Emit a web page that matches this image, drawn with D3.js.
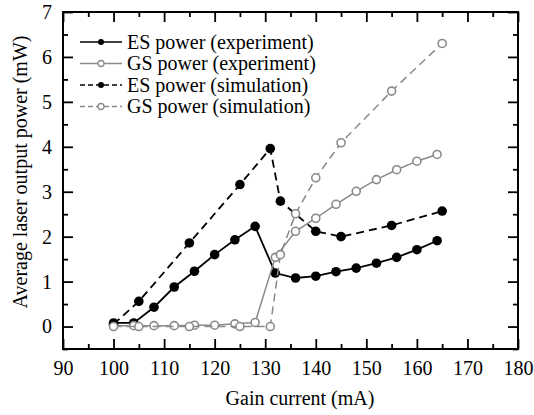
<!DOCTYPE html>
<html>
<head>
<meta charset="utf-8">
<script src="https://cdn.jsdelivr.net/npm/d3@7"></script>
<style>
  body { margin: 0; background: #fff; }
</style>
</head>
<body>
<div id="chart"></div>
<script>
"use strict";

/* Gain current (mA) and measured / simulated power (mW) */
const esExpX = [100, 104, 108, 112, 116, 120, 124, 128, 132, 136, 140, 144, 148, 152, 156, 160, 164];
const esExpY = [0.08, 0.08, 0.43, 0.88, 1.23, 1.6, 1.93, 2.23, 1.19, 1.08, 1.12, 1.22, 1.3, 1.41, 1.54, 1.71, 1.91];

const gsExpX = [100, 104, 108, 112, 116, 120, 124, 128, 132, 136, 140, 144, 148, 152, 156, 160, 164];
const gsExpY = [0.02, 0.02, 0.02, 0.02, 0.03, 0.03, 0.06, 0.09, 1.54, 2.12, 2.41, 2.72, 3.01, 3.27, 3.49, 3.68, 3.83];

const esSimX = [100, 105, 115, 125, 131, 133, 140, 145, 155, 165];
const esSimY = [0.05, 0.56, 1.86, 3.16, 3.96, 2.79, 2.12, 2.0, 2.25, 2.57];

const gsSimX = [100, 105, 115, 125, 131, 133, 136, 140, 145, 155, 165];
const gsSimY = [0.0, 0.0, 0.0, 0.0, 0.0, 1.6, 2.51, 3.31, 4.09, 5.24, 6.3];

const xTicks = [90, 100, 110, 120, 130, 140, 150, 160, 170, 180];
const xMinor = [95, 105, 115, 125, 135, 145, 155, 165, 175];
const yTicks = [0, 1, 2, 3, 4, 5, 6, 7];
const yMinor = [-0.5, 0.5, 1.5, 2.5, 3.5, 4.5, 5.5, 6.5];

const seriesNames = ["ES power (experiment)", "GS power (experiment)", "ES power (simulation)", "GS power (simulation)"];

const width = 534, height = 415,
      margin = {top: 12, right: 16, bottom: 66, left: 63};

const serif = "Liberation Serif";
const grey = "#8a8a8a";

const series = [
  {name: seriesNames[0], xs: esExpX, ys: esExpY, color: "#000", dash: null, filled: true},
  {name: seriesNames[1], xs: gsExpX, ys: gsExpY, color: grey, dash: null, filled: false},
  {name: seriesNames[2], xs: esSimX, ys: esSimY, color: "#000", dash: "8,5", filled: true},
  {name: seriesNames[3], xs: gsSimX, ys: gsSimY, color: grey, dash: "8,5", filled: false}
];

let svg = d3.select("#chart").append("svg")
    .attr("width", width)
    .attr("height", height);

let plotW = width - margin.left - margin.right,
    plotH = height - margin.top - margin.bottom;

let x = d3.scaleLinear().domain([90, 180]).range([0, plotW]),
    y = d3.scaleLinear().domain([-0.5, 7]).range([plotH, 0]);

let g = svg.append("g")
    .attr("transform", "translate(" + margin.left + "," + margin.top + ")");

/* Axes: major and minor ticks pointing inward on all four sides */
function styleAxis(sel) {
  sel.attr("font-family", serif).attr("font-size", 20);
  sel.select(".domain").remove();
  sel.selectAll(".tick line").attr("stroke", "#000").attr("stroke-width", 1.8);
  sel.selectAll(".tick text").attr("fill", "#000");
}

g.append("g")
    .attr("transform", "translate(0," + plotH + ")")
    .call(d3.axisBottom(x).tickValues(xTicks).tickSize(-10).tickPadding(12).tickFormat(d3.format("d")))
    .call(styleAxis);
g.append("g")
    .attr("transform", "translate(0," + plotH + ")")
    .call(d3.axisBottom(x).tickValues(xMinor).tickSize(-5).tickFormat(""))
    .call(styleAxis);
g.append("g")
    .call(d3.axisTop(x).tickValues(xTicks).tickSize(-10).tickFormat(""))
    .call(styleAxis);
g.append("g")
    .call(d3.axisTop(x).tickValues(xMinor).tickSize(-5).tickFormat(""))
    .call(styleAxis);

g.append("g")
    .call(d3.axisLeft(y).tickValues(yTicks).tickSize(-10).tickPadding(11).tickFormat(d3.format("d")))
    .call(styleAxis);
g.append("g")
    .call(d3.axisLeft(y).tickValues(yMinor).tickSize(-5).tickFormat(""))
    .call(styleAxis);
g.append("g")
    .attr("transform", "translate(" + plotW + ",0)")
    .call(d3.axisRight(y).tickValues(yTicks).tickSize(-10).tickFormat(""))
    .call(styleAxis);
g.append("g")
    .attr("transform", "translate(" + plotW + ",0)")
    .call(d3.axisRight(y).tickValues(yMinor).tickSize(-5).tickFormat(""))
    .call(styleAxis);

/* Frame */
g.append("rect")
    .attr("width", plotW)
    .attr("height", plotH)
    .attr("fill", "none")
    .attr("stroke", "#000")
    .attr("stroke-width", 2);

/* Lines and markers */
let line = d3.line()
    .x(function(d) { return x(d[0]); })
    .y(function(d) { return y(d[1]); });

series.forEach(function(s) {
  let pts = s.xs.map(function(v, i) { return [v, s.ys[i]]; });
  let grp = g.append("g");
  grp.append("path")
      .datum(pts)
      .attr("d", line)
      .attr("fill", "none")
      .attr("stroke", s.color)
      .attr("stroke-width", s.filled ? 1.8 : 1.5)
      .attr("stroke-dasharray", s.dash);
  grp.selectAll("circle")
      .data(pts)
      .enter().append("circle")
      .attr("cx", function(d) { return x(d[0]); })
      .attr("cy", function(d) { return y(d[1]); })
      .attr("r", s.filled ? 4.8 : 4)
      .attr("fill", s.filled ? "#000" : "#fff")
      .attr("stroke", s.color)
      .attr("stroke-width", s.filled ? 0 : 1.6);
});

/* Legend */
let legend = svg.append("g")
    .attr("transform", "translate(80,42)");

let item = legend.selectAll("g")
    .data(series)
    .enter().append("g")
    .attr("transform", function(d, i) { return "translate(0," + (i * 21.5) + ")"; });

item.append("line")
    .attr("x1", 0).attr("x2", 42)
    .attr("stroke", function(d) { return d.color; })
    .attr("stroke-width", 1.6)
    .attr("stroke-dasharray", function(d) { return d.dash ? "5,3" : null; });
item.append("circle")
    .attr("cx", 21)
    .attr("r", 3)
    .attr("fill", function(d) { return d.filled ? "#000" : "#fff"; })
    .attr("stroke", function(d) { return d.color; })
    .attr("stroke-width", function(d) { return d.filled ? 0 : 1.3; });
item.append("text")
    .attr("x", 47)
    .attr("dy", "0.33em")
    .attr("font-family", serif)
    .attr("font-size", 20)
    .text(function(d) { return d.name; });

/* Axis titles */
svg.append("text")
    .attr("x", 300)
    .attr("y", 405)
    .attr("text-anchor", "middle")
    .attr("font-family", serif)
    .attr("font-size", 20)
    .text("Gain current (mA)");

svg.append("text")
    .attr("transform", "translate(27," + 172 + ") rotate(-90)")
    .attr("text-anchor", "middle")
    .attr("font-family", serif)
    .attr("font-size", 20)
    .text("Average laser output power (mW)");
</script>
</body>
</html>
